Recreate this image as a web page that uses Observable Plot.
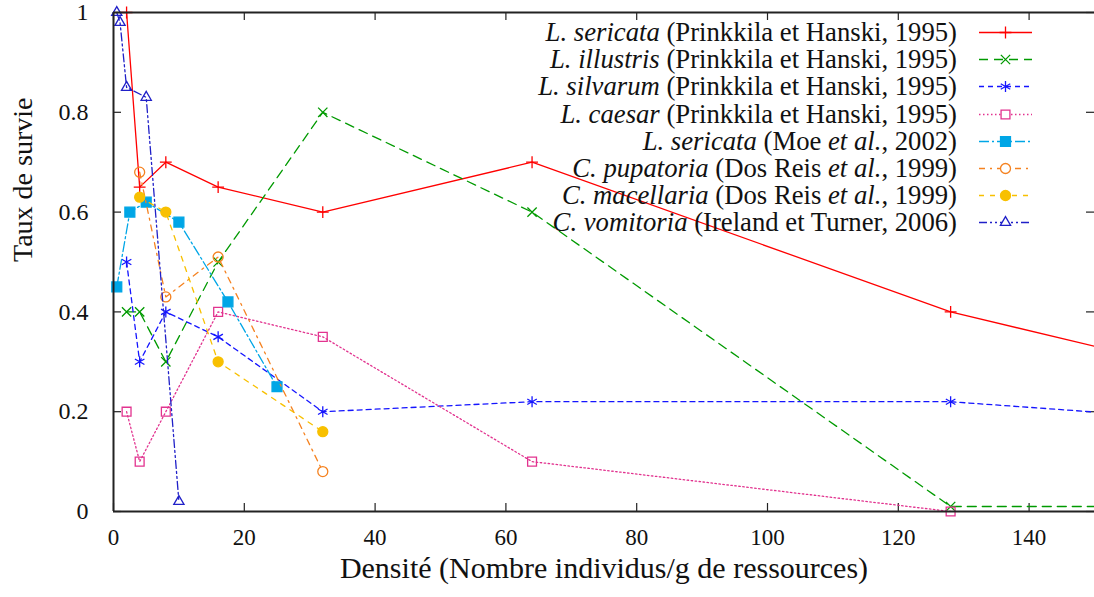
<!DOCTYPE html>
<html>
<head>
<meta charset="utf-8">
<script src="https://cdn.jsdelivr.net/npm/d3@7"></script>
<script src="https://cdn.jsdelivr.net/npm/@observablehq/plot@0.6"></script>
<style>
  html, body { margin: 0; padding: 0; background: #fff; font-family: 'Liberation Serif'; }
  #wrap { position: relative; width: 1094px; height: 597px; font-family: 'Liberation Serif'; }
  #legend { position: absolute; top: 19px; right: 62px; font-family: 'Liberation Serif'; }
  .row { display: flex; align-items: center; justify-content: flex-end; height: 27.2px; font-size: 26.7px; color: #111; white-space: nowrap; font-family: 'Liberation Serif'; }
  .row span { margin-right: 22px; }
  .row svg { display: block; }
  svg text { font-family: 'Liberation Serif'; }
</style>
</head>
<body>
<div id="wrap"><div id="legend"></div></div>
<script>
// ---- data ----
const xSericataP = [2, 4, 8, 16, 32, 64, 128, 256];
const ySericataP = [1.00, 0.65, 0.70, 0.65, 0.60, 0.70, 0.40, 0.00];
const xIllustris = [2, 4, 8, 16, 32, 64, 128, 256];
const yIllustris = [0.40, 0.40, 0.30, 0.50, 0.80, 0.60, 0.01, 0.01];
const xSilvarum = [2, 4, 8, 16, 32, 64, 128, 256];
const ySilvarum = [0.50, 0.30, 0.40, 0.35, 0.20, 0.22, 0.22, 0.10];
const xCaesar = [2, 4, 8, 16, 32, 64, 128];
const yCaesar = [0.20, 0.10, 0.20, 0.40, 0.35, 0.10, 0.00];
const xSericataM = [0.5, 2.5, 5, 10, 17.5, 25];
const ySericataM = [0.45, 0.60, 0.62, 0.58, 0.42, 0.25];
const xPupatoria = [4, 8, 16, 32];
const yPupatoria = [0.68, 0.43, 0.51, 0.08];
const xMacellaria = [4, 8, 16, 32];
const yMacellaria = [0.63, 0.60, 0.30, 0.16];
const xVomitoria = [0.5, 1, 2, 5, 10];
const yVomitoria = [1.00, 0.98, 0.85, 0.83, 0.02];

const xTicks = [0, 20, 40, 60, 80, 100, 120, 140];
const yTicks = [0, 0.2, 0.4, 0.6, 0.8, 1];
const xTitle = "Densité (Nombre individus/g de ressources)";
const yTitle = "Taux de survie";

const seriesDefs = [
  {x: xSericataP, y: ySericataP, sp: "L. sericata", ref: " (Prinkkila et Hanski, 1995)", color: "#ff0000", dash: null, symbol: "plus", r: 3.9, filled: false},
  {x: xIllustris, y: yIllustris, sp: "L. illustris", ref: " (Prinkkila et Hanski, 1995)", color: "#009a00", dash: "9,6", symbol: "times", r: 4.3, filled: false},
  {x: xSilvarum, y: ySilvarum, sp: "L. silvarum", ref: " (Prinkkila et Hanski, 1995)", color: "#1515ff", dash: "5,4", symbol: "asterisk", r: 5.2, filled: false},
  {x: xCaesar, y: yCaesar, sp: "L. caesar", ref: " (Prinkkila et Hanski, 1995)", color: "#e2338f", dash: "1.5,2.5", symbol: "square", r: 5.0, filled: false},
  {x: xSericataM, y: ySericataM, sp: "L. sericata", ref: " (Moe <i>et al.</i>, 2002)", color: "#00a6e6", dash: "10,3,2,3", symbol: "square", r: 5.6, filled: true},
  {x: xPupatoria, y: yPupatoria, sp: "C. pupatoria", ref: " (Dos Reis <i>et al.</i>, 1999)", color: "#f58220", dash: "6,5,2,5", symbol: "circle", r: 5, filled: false},
  {x: xMacellaria, y: yMacellaria, sp: "C. macellaria", ref: " (Dos Reis <i>et al.</i>, 1999)", color: "#f8c000", dash: "5,6", symbol: "circle", r: 5, filled: true},
  {x: xVomitoria, y: yVomitoria, sp: "C. vomitoria", ref: " (Ireland et Turner, 2006)", color: "#2020c8", dash: "8,3,2,3,2,3", symbol: "triangle", r: 3.8, filled: false}
];

const marks = [];
const plotW = 1094 - 113, plotH = 597 - 12 - 86;
for (const s of seriesDefs) {
  const pts = s.x.map((x, i) => ({x, y: s.y[i]}));
  marks.push(Plot.line(pts, {x: "x", y: "y", stroke: s.color, strokeWidth: 1.3, strokeDasharray: s.dash, clip: "frame"}));
  marks.push(Plot.dot(pts.filter(d => d.x <= 150), {x: "x", y: "y", symbol: () => s.symbol, r: s.r,
    stroke: s.color, strokeWidth: 1.3, fill: s.filled ? s.color : "none"}));
}

const chart = Plot.plot({
  width: 1094, height: 597,
  marginLeft: 113, marginRight: 0, marginTop: 12, marginBottom: 86,
  style: {fontFamily: "Liberation Serif", fontSize: "22px", background: "white", color: "#111", overflow: "visible"},
  x: {domain: [0, 150]},
  y: {domain: [0, 1]},
  marks: [
    Plot.axisX(xTicks, {tickSize: 0, tickPadding: 17, tickFormat: d => String(d), label: null, fontSize: 23}),
    Plot.axisY(yTicks, {tickSize: 0, tickPadding: 25, tickFormat: d3.format("~g"), label: null, fontSize: 24}),
    Plot.text([xTitle], {frameAnchor: "bottom", dy: 66, fontSize: 30, text: d => d}),
    Plot.text([yTitle], {frameAnchor: "left", dx: -90, rotate: -90, fontSize: 28, text: d => d}),
    Plot.tickX(xTicks, {x: d => d, insetTop: plotH - 8, stroke: "#222", strokeWidth: 1.2}),
    Plot.tickX(xTicks, {x: d => d, insetBottom: plotH - 8, stroke: "#222", strokeWidth: 1.2}),
    Plot.tickY(yTicks, {y: d => d, insetRight: plotW - 8, stroke: "#222", strokeWidth: 1.2}),
    Plot.tickY(yTicks, {y: d => d, insetLeft: plotW - 8, stroke: "#222", strokeWidth: 1.2}),
    ...marks,
    Plot.ruleX([0], {stroke: "#222", strokeWidth: 2}),
    Plot.ruleY([0, 1], {stroke: "#222", strokeWidth: 2})
  ]
});
chart.style.fontFamily = "'Liberation Serif'";
chart.setAttribute("font-family", "Liberation Serif");
document.getElementById("wrap").prepend(chart);

const symMap = {plus: d3.symbolPlus, times: d3.symbolTimes, asterisk: d3.symbolAsterisk, square: d3.symbolSquare, circle: d3.symbolCircle, triangle: d3.symbolTriangle};
const legend = d3.select("#legend");
for (const s of seriesDefs) {
  const row = legend.append("div").attr("class", "row");
  row.append("span").style("font-family", "'Liberation Serif'").html(`<i>${s.sp}</i>${s.ref}`);
  const svg = row.append("svg").attr("width", 53).attr("height", 27);
  svg.append("line").attr("x1", 0).attr("x2", 53).attr("y1", 13.5).attr("y2", 13.5)
    .attr("stroke", s.color).attr("stroke-width", 1.3).attr("stroke-dasharray", s.dash);
  svg.append("path").attr("transform", "translate(26.5,13.5)")
    .attr("d", d3.symbol(symMap[s.symbol], Math.PI * s.r * s.r)())
    .attr("stroke", s.color).attr("stroke-width", 1.3).attr("fill", s.filled ? s.color : (s.symbol === "plus" || s.symbol === "times" || s.symbol === "asterisk" ? "none" : "white"));
}
</script>
</body>
</html>
